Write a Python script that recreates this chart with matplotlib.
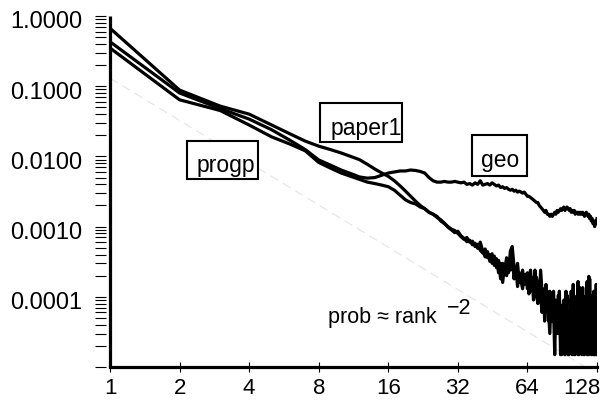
import matplotlib
matplotlib.use("Agg")
import matplotlib.pyplot as plt
from matplotlib.patches import Rectangle
from matplotlib.transforms import ScaledTranslation
import matplotlib.ticker as mticker

plt.rcParams['font.family'] = ['Liberation Sans', 'DejaVu Sans']
plt.rcParams['font.size'] = 16

ranks = list(range(1, 129))

paper1 = [
    0.67, 0.088, 0.052, 0.040, 0.028, 0.021, 0.0165, 0.0140, 0.0125, 0.0112,
    0.0100, 0.0090, 0.0077, 0.0066, 0.0058, 0.0052, 0.0045, 0.0038, 0.0032, 0.0027,
    0.0023, 0.0020, 0.0018, 0.0016, 0.0015, 0.0014, 0.0012, 0.0011, 0.00100, 0.00092,
    0.00088, 0.00080, 0.00072, 0.00066, 0.00070, 0.00060, 0.00062, 0.00052, 0.00056, 0.00046,
    0.00042, 0.00048, 0.00036, 0.00040, 0.00030, 0.00038, 0.00026, 0.00033, 0.00018, 0.00030,
    0.00024, 0.00036, 0.00022, 0.00045, 0.00052, 0.00027, 0.00021, 0.00030, 0.00016, 0.00019,
    0.00024, 0.00015, 0.00021, 0.00013, 0.00018, 0.00024, 0.00012, 0.00016, 0.00010, 0.00019,
    0.00014, 0.00009, 0.00024, 0.00012, 0.00006, 0.00009, 0.00015, 0.000075, 0.000045, 0.00012,
    0.000090, 0.000060, 0.00012, 0.000045, 0.000075, 0.000030, 0.000105, 0.000090, 0.000060, 0.000015,
    0.000075, 0.000045, 0.000015, 0.000120, 0.000030, 0.000060, 0.000015, 0.000090, 0.000045, 0.000030,
    0.000150, 0.000015, 0.000060, 0.000030, 0.000105, 0.000015, 0.000045, 0.000135, 0.000030, 0.000015,
    0.000075, 0.000030, 0.000015, 0.000090, 0.000045, 0.000165, 0.000015, 0.000195, 0.000030, 0.000060,
    0.000015, 0.000105, 0.000045, 0.000015, 0.000075, 0.000030, 0.000150, 0.000015,
]

progp = [
    0.35, 0.064, 0.045, 0.028, 0.019, 0.015, 0.012, 0.0082, 0.0068, 0.0058,
    0.0052, 0.0047, 0.0043, 0.0041, 0.0039, 0.0037, 0.0033, 0.0028, 0.0024, 0.0022,
    0.0021, 0.0019, 0.0018, 0.0016, 0.0015, 0.00135, 0.00125, 0.00112, 0.00098, 0.00090,
    0.00082, 0.00086, 0.00074, 0.00068, 0.00061, 0.00064, 0.00055, 0.00058, 0.00049, 0.00060,
    0.00045, 0.00037, 0.00044, 0.00032, 0.00041, 0.00028, 0.00035, 0.00022, 0.00030, 0.00016,
    0.00028, 0.00020, 0.00034, 0.00024, 0.00040, 0.00018, 0.00026, 0.00014, 0.00022, 0.00017,
    0.00013, 0.00020, 0.00016, 0.00022, 0.00011, 0.00015, 0.00019, 0.00009, 0.00024, 0.00011,
    0.00008, 0.00016, 0.000105, 0.00006, 0.00013, 0.000045, 0.000090, 0.00012, 0.000060, 0.000030,
    0.000105, 0.000045, 0.000075, 0.000015, 0.000090, 0.000060, 0.000030, 0.000120, 0.000015, 0.000075,
    0.000030, 0.000090, 0.000015, 0.000060, 0.000105, 0.000015, 0.000045, 0.000030, 0.000120, 0.000015,
    0.000060, 0.000090, 0.000015, 0.000045, 0.000030, 0.000165, 0.000015, 0.000060, 0.000090, 0.000030,
    0.000135, 0.000015, 0.000045, 0.000030, 0.000105, 0.000015, 0.000060, 0.000015, 0.000180, 0.000045,
    0.000090, 0.000030, 0.000015, 0.000120, 0.000015, 0.000060, 0.000030, 0.000105,
]

geo = [
    0.43, 0.080, 0.048, 0.034, 0.024, 0.017, 0.0125, 0.0089, 0.0075, 0.0064,
    0.0057, 0.0051, 0.0049, 0.0050, 0.0054, 0.0058, 0.0060, 0.0062, 0.0062, 0.0064,
    0.0063, 0.0061, 0.0058, 0.0050, 0.0045, 0.0043, 0.0043, 0.0044, 0.0043, 0.0043,
    0.0044, 0.0043, 0.0042, 0.0043, 0.0040, 0.0041, 0.0039, 0.0042, 0.0040, 0.0045,
    0.0039, 0.0040, 0.0041, 0.0039, 0.0042, 0.0040, 0.0038, 0.0039, 0.0036, 0.0037,
    0.0035, 0.0036, 0.0034, 0.0033, 0.0034, 0.0032, 0.0033, 0.0031, 0.0032, 0.0031,
    0.0030, 0.0031, 0.0029, 0.0027, 0.0027, 0.0026, 0.0025, 0.0024, 0.0023, 0.0022,
    0.0022, 0.0020, 0.0019, 0.0018, 0.0017, 0.0016, 0.0017, 0.0015, 0.0015, 0.0014,
    0.0015, 0.0014, 0.0015, 0.0016, 0.0015, 0.0017, 0.0016, 0.0017, 0.0018, 0.0017,
    0.0018, 0.0019, 0.0017, 0.0018, 0.0019, 0.0018, 0.0017, 0.0018, 0.0016, 0.0017,
    0.0016, 0.0017, 0.0015, 0.0016, 0.0016, 0.0015, 0.0016, 0.0015, 0.0016, 0.0015,
    0.0016, 0.0015, 0.0014, 0.0015, 0.0016, 0.0015, 0.0014, 0.0015, 0.0013, 0.0014,
    0.0012, 0.0013, 0.0011, 0.0012, 0.0010, 0.0012, 0.0011, 0.0013,
]

ref_ranks = [1, 128]
ref_coef = 0.13  # prob ~ coef * rank^-2

x_ticks = [1, 2, 4, 8, 16, 32, 64, 128]
x_labels = ['1', '2', '4', '8', '16', '32', '64', '128']
y_ticks = [1e-5, 1e-4, 1e-3, 1e-2, 1e-1, 1.0]
y_labels = ['', '0.0001', '0.0010', '0.0100', '0.1000', '1.0000']

fig = plt.figure(figsize=(6.05, 4.05), dpi=100)
ax = fig.add_axes([110/605, 38/405, 487/605, 351/405])
ax.set_xscale('log', base=2)
ax.set_yscale('log')
ax.set_xlim(1, 128)
ax.set_ylim(1e-5, 1.0)

# reference line prob ~ rank^-2
ref_vals = [ref_coef / r**2 for r in ref_ranks]
ax.plot(ref_ranks, ref_vals, color='#e4e4e4', lw=0.8, dashes=(8, 5), zorder=1)

for series in (geo, progp, paper1):
    ax.plot(ranks, series, color='black', lw=2.3, zorder=2)

for side in ('top', 'right'):
    ax.spines[side].set_visible(False)
ax.spines['bottom'].set_linewidth(2.3)
ax.spines['left'].set_position(('outward', 2.9))
ax.spines['left'].set_visible(False)
ax.plot([0, 0], [0, 1], transform=ax.transAxes, color='black', lw=2.3,
        clip_on=False, solid_capstyle='butt', zorder=5)

ax.xaxis.set_major_locator(mticker.FixedLocator(x_ticks))
ax.xaxis.set_major_formatter(mticker.FixedFormatter(x_labels))
ax.xaxis.set_minor_locator(mticker.NullLocator())
ax.tick_params(axis='x', which='major', direction='inout', length=6.5, width=0.8,
               pad=5, labelsize=16)

ax.yaxis.set_major_locator(mticker.FixedLocator(y_ticks))
ax.yaxis.set_major_formatter(mticker.FixedFormatter(y_labels))
ax.yaxis.set_minor_locator(mticker.LogLocator(base=10, subs=[2, 3, 4, 5, 6, 7, 8, 9], numticks=20))
ax.yaxis.set_minor_formatter(mticker.NullFormatter())
ax.tick_params(axis='y', which='both', direction='out', length=8, width=0.8, pad=9,
               labelsize=17)

off = ScaledTranslation(0, -4/100, fig.dpi_scale_trans)
for lab in ax.get_yticklabels():
    lab.set_transform(lab.get_transform() + off)

xlabs = ax.get_xticklabels()
last = xlabs[-1]
last.set_transform(last.get_transform() + ScaledTranslation(-15/100, 0, fig.dpi_scale_trans))

boxes = [
    ('progp', (0.158, 0.536), 0.146, 0.108, (0.177, 0.556)),
    ('paper1', (0.431, 0.641), 0.169, 0.111, (0.452, 0.661)),
    ('geo', (0.743, 0.544), 0.113, 0.117, (0.762, 0.570)),
]
for name, (bx, by), bw, bh, (tx, ty) in boxes:
    ax.add_patch(Rectangle((bx, by), bw, bh, transform=ax.transAxes, fill=True,
                           facecolor='white', edgecolor='black', lw=1.5, zorder=6))
    ax.text(tx, ty, name, transform=ax.transAxes, ha='left', va='baseline',
            fontsize=16.5, zorder=7)

ax.text(0.448, 0.125, 'prob \u2248 rank', transform=ax.transAxes, ha='left',
        va='baseline', fontsize=15.5)
ax.text(0.692, 0.150, '\u22122', transform=ax.transAxes, ha='left',
        va='baseline', fontsize=15.5)

fig.savefig('out.png', dpi=100)
